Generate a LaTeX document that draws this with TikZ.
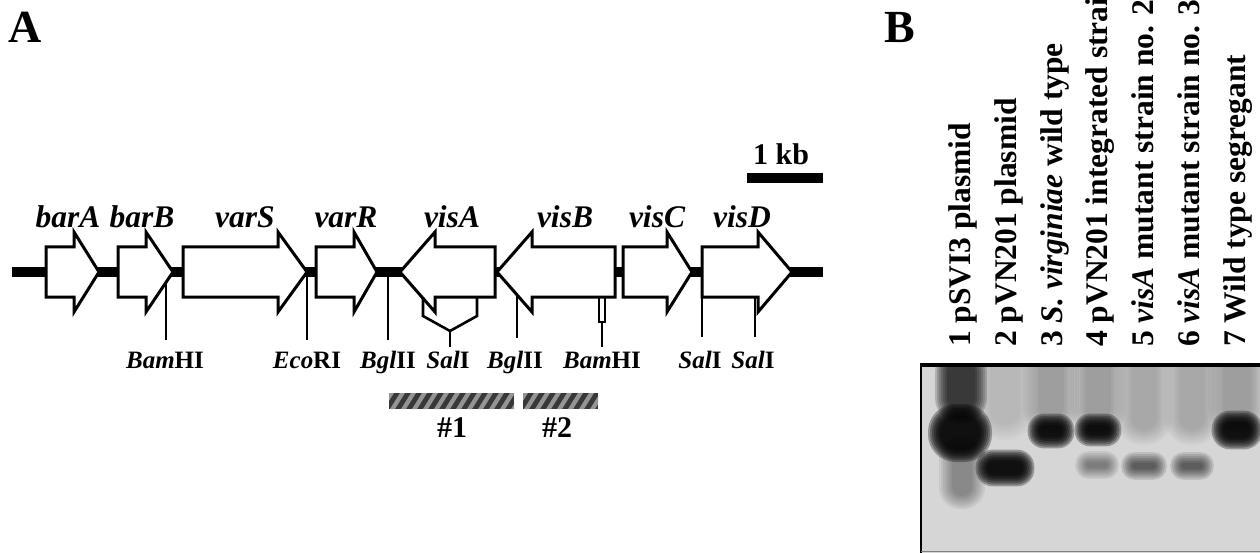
\documentclass[tikz,border=0pt]{standalone}
\usepackage{fontspec}
\setmainfont{Liberation Serif}
\newcommand\genearrow[3]{% start, head base, tip
  \draw[gene] (#1,247) -- (#2,247) -- (#2,232) -- (#3,272) -- (#2,312) -- (#2,297) -- (#1,297) -- cycle;}
\newcommand\hatchbar[2]{% x1 x2
  \begin{scope}
    \clip (#1,393) rectangle (#2,409);
    \fill[hatchdark] (#1,393) rectangle (#2,409);
    \foreach \s in {0,11,...,150}{
      \fill[hatchlight] ({#1+\s-10},409) -- ({#1+\s-5},409) -- ({#1+\s+5},393) -- ({#1+\s},393) -- cycle;}
  \end{scope}}
\newcommand\gband[6]{% cx cy hw hh opacity step
  \foreach \k in {6,5,...,0}{
    \pgfmathsetmacro\gbw{#3+\k*#6}
    \pgfmathsetmacro\gbh{#4+\k*#6}
    \pgfmathsetmacro\gbr{0.95*min(\gbw,\gbh)}
    \fill[black, opacity=#5, rounded corners=\gbr pt] ({#1-\gbw},{#2-\gbh}) rectangle ({#1+\gbw},{#2+\gbh});
  }}
\colorlet{hatchdark}{black!78}
\colorlet{hatchlight}{black!42}
\begin{document}
\begin{tikzpicture}[x=1pt,y=-1pt]
\useasboundingbox (0,0) rectangle (1260,553);
\clip (0,0) rectangle (1260,553);
\tikzset{
  gene/.style={draw=black, line width=3pt, fill=white, line join=miter, miter limit=10},
  site/.style={draw=black, line width=2.6pt},
  backbone/.style={draw=black, line width=10pt},
  glabel/.style={font=\fontsize{31.5}{31.5}\selectfont\bfseries\itshape, anchor=base, inner sep=0pt},
  slabel/.style={font=\fontsize{25}{25}\selectfont\bfseries, anchor=base, inner sep=0pt},
  numlabel/.style={font=\fontsize{30}{30}\selectfont\bfseries, anchor=base, inner sep=0pt},
  lanelabel/.style={font=\fontsize{31.5}{31.5}\selectfont\bfseries, anchor=base west, rotate=90, inner sep=0pt},
  panel/.style={font=\fontsize{46}{46}\selectfont\bfseries, anchor=base west, inner sep=0pt},
}
% panel labels
\node[panel] (pA) at (8,43) {A};
\node[panel] (pB) at (884,43) {B};

% ---------- panel A: gene map ----------
\draw[backbone] (12,272) -- (823,272);
\genearrow{46}{74}{99}
\genearrow{118}{146}{173}
\genearrow{183}{278}{307}
\genearrow{316}{354}{377}
\genearrow{495}{435}{400}
\genearrow{615}{532}{497}
\genearrow{623}{667}{692}
\genearrow{702}{758}{792}

\node[glabel] (gbarA) at (68,228) {barA};
\node[glabel] (gbarB) at (142,228) {barB};
\node[glabel] (gvarS) at (245,228) {varS};
\node[glabel] (gvarR) at (346,228) {varR};
\node[glabel] (gvisA) at (452,228) {visA};
\node[glabel] (gvisB) at (565,228) {visB};
\node[glabel] (gvisC) at (657,228) {visC};
\node[glabel] (gvisD) at (742,228) {visD};

% scale bar
\fill[black] (747,173) rectangle (823,183);
\node[numlabel] (kb) at (781,165) {1 kb};

% restriction sites
\draw[site] (166,281) -- (166,340);
\draw[site] (307,274) -- (307,340);
\draw[site] (388,274) -- (388,340);
\draw[site] (423,297) -- (423,316) -- (450,331) -- (477,316) -- (477,297);
\draw[site] (450,331) -- (450,347);
\draw[site] (517,294) -- (517,338);
\draw[line width=2pt] (599,297) rectangle (605,322);
\draw[site] (602,322) -- (602,347);
\draw[site] (702,297) -- (702,337);
\draw[site] (755,297) -- (755,337);

\node[slabel] (s1) at (165,368) {\textit{Bam}HI};
\node[slabel] (s2) at (307,368) {\textit{Eco}RI};
\node[slabel] (s3) at (388,368) {\textit{Bgl}II};
\node[slabel] (s4) at (448,368) {\textit{Sal}I};
\node[slabel] (s5) at (515,368) {\textit{Bgl}II};
\node[slabel] (s6) at (602,368) {\textit{Bam}HI};
\node[slabel] (s7) at (700,368) {\textit{Sal}I};
\node[slabel] (s8) at (753,368) {\textit{Sal}I};

% probes
\hatchbar{389}{514}
\hatchbar{523}{598}
\node[numlabel] (p1) at (452,437) {\#1};
\node[numlabel] (p2) at (557,437) {\#2};

% ---------- panel B: blot ----------
\node[lanelabel] (l1) at (970,347) {1 pSVI3 plasmid};
\node[lanelabel] (l2) at (1016,347) {2 pVN201 plasmid};
\node[lanelabel] (l3) at (1062,347) {3 \textit{S. virginiae} wild type};
\node[lanelabel] (l4) at (1107,347) {4 pVN201 integrated strain};
\node[lanelabel] (l5) at (1153,347) {5 \textit{visA} mutant strain no. 2};
\node[lanelabel] (l6) at (1199,347) {6 \textit{visA} mutant strain no. 3};
\node[lanelabel] (l7) at (1245,347) {7 Wild type segregant};

\begin{scope}
\clip (921,365) rectangle (1260,553);
\fill[black!16] (921,365) rectangle (1260,553);
% lane smears
\gband{1005}{380}{15}{45}{0.02}{2.5}
\gband{1051}{375}{13}{45}{0.04}{2.5}
\gband{1098}{375}{13}{45}{0.04}{2.5}
\gband{1144}{380}{13}{50}{0.03}{2.5}
\gband{1192}{380}{13}{50}{0.03}{2.5}
\gband{1237}{375}{14}{45}{0.04}{2.5}
% lane 1
\gband{961}{385}{14}{26}{0.17}{2}
\gband{962}{472}{10}{24}{0.06}{2.2}
\gband{960}{433}{20}{17}{0.3}{2}
% bands
\gband{1005}{468}{18}{7}{0.3}{1.9}
\gband{1051}{431}{12}{6}{0.3}{1.9}
\gband{1098}{430}{12}{5}{0.3}{1.9}
\gband{1097}{465}{11}{3}{0.07}{1.8}
\gband{1144}{466}{12}{3}{0.11}{1.8}
\gband{1192}{466}{11}{3}{0.11}{1.8}
\gband{1237}{430}{14}{8}{0.3}{1.9}
\end{scope}
\draw[line width=2pt] (921,553) -- (921,365);
\draw[line width=3.5pt] (920,365) -- (1260,365);
\draw[line width=1pt, black!50] (921,551) -- (1260,551);
\end{tikzpicture}
\end{document}
